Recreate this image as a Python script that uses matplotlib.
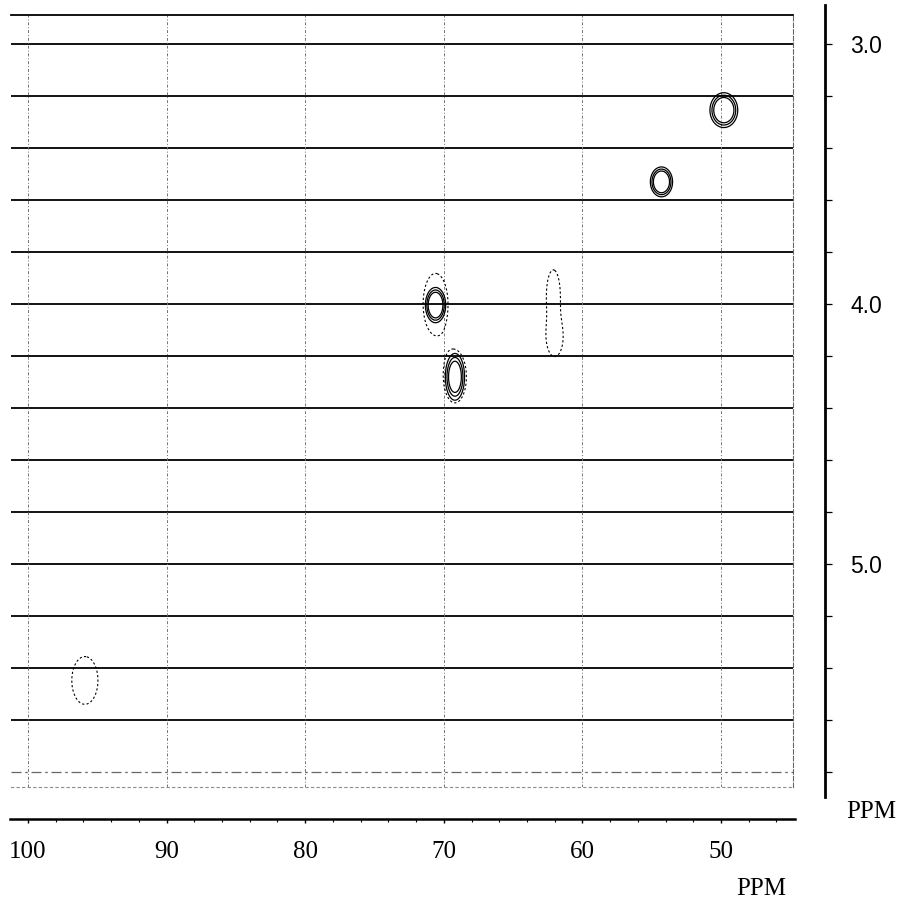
import numpy as np
import matplotlib
matplotlib.use("Agg")
import matplotlib.pyplot as plt

# 13C axis (ppm) and 1H axis (ppm)
c13_ticks = [100, 90, 80, 70, 60, 50]
c13_minor = list(range(46, 101, 2))
h1_ticks = [3.0, 3.2, 3.4, 3.6, 3.8, 4.0, 4.2, 4.4, 4.6, 4.8, 5.0, 5.2, 5.4, 5.6, 5.8]
h1_labels = ["3.0", "", "", "", "", "4.0", "", "", "", "", "5.0", "", "", "", ""]
grid_h_solid = [3.0, 3.2, 3.4, 3.6, 3.8, 4.0, 4.2, 4.4, 4.6, 4.8, 5.0, 5.2, 5.4, 5.6]
grid_h_faint = [5.8]

# cross peaks with strong (solid) contours: C, H, width C, width H, height
strong_c = [49.8, 54.3, 70.6, 69.2]
strong_h = [3.254, 3.53, 4.004, 4.28]
strong_sc = [0.575, 0.46, 0.42, 0.43]
strong_sh = [0.0385, 0.033, 0.039, 0.056]
strong_amp = [1.0, 1.0, 1.0, 0.8]

# weak (dotted) contours
weak_c = [70.6, 69.2, 62.1, 62.0, 95.9]
weak_h = [4.0, 4.28, 3.965, 4.13, 5.448]
weak_sc = [0.76, 0.70, 0.42, 0.49, 0.80]
weak_sh = [0.10, 0.085, 0.082, 0.06, 0.078]


def field(cc, hh, sc, sh, amp, X, Y):
    Z = np.zeros_like(X)
    for c, h, a, b, A in zip(cc, hh, sc, sh, amp):
        Z += A * np.exp(-0.5 * (((X - c) / a) ** 2 + ((Y - h) / b) ** 2))
    return Z


fig = plt.figure(figsize=(9.01, 9.11), dpi=100)
W, H = 901, 911

# main spectrum area
ax = fig.add_axes([11 / W, 1 - 787 / H, 782 / W, 772 / H])
ax.set_xlim(101.23, 44.81)
ax.set_ylim(5.858, 2.888)

xs = np.linspace(44.0, 102.0, 900)
ys = np.linspace(2.85, 5.9, 900)
X, Y = np.meshgrid(xs, ys)

Zs = field(strong_c, strong_h, strong_sc, strong_sh, strong_amp, X, Y)
Zw = field(weak_c, weak_h, weak_sc, weak_sh, [1.0] * len(weak_c), X, Y)

for yv in grid_h_solid:
    ax.axhline(yv, color="black", lw=1.3, zorder=1)
for yv in grid_h_faint:
    ax.axhline(yv, color="0.4", lw=0.9, ls=(0, (8, 3, 2, 3)), zorder=1)
for xv in c13_ticks:
    ax.axvline(xv, color="0.45", lw=0.7, ls=(0, (3, 2, 1, 2)), zorder=1)

ax.contour(X, Y, Zw, levels=[0.5], colors="black", linewidths=0.8,
           linestyles=[(0, (2, 2))], zorder=2)
ax.contour(X, Y, Zs, levels=[0.22, 0.33, 0.45], colors="black",
           linewidths=0.9, linestyles="solid", zorder=3)

ax.set_xticks([])
ax.set_yticks([])
ax.spines["left"].set_visible(False)
ax.spines["top"].set_linewidth(1.3)
ax.spines["right"].set_color("0.4")
ax.spines["right"].set_linewidth(0.8)
ax.spines["right"].set_linestyle((0, (4, 2)))
ax.spines["bottom"].set_color("0.55")
ax.spines["bottom"].set_linewidth(0.8)
ax.spines["bottom"].set_linestyle((0, (2, 3)))

serif = "Liberation Serif"

# bottom 13C axis
axb = fig.add_axes([10 / W, 1 - 819 / H, 785 / W, 1e-4])
axb.set_xlim(101.3, 44.66)
axb.set_yticks([])
for s in ["left", "right", "top"]:
    axb.spines[s].set_visible(False)
axb.spines["bottom"].set_linewidth(1.8)
axb.set_xticks(c13_ticks)
axb.set_xticklabels([str(v) for v in c13_ticks], fontfamily=serif, fontsize=18)
axb.set_xticks(c13_minor, minor=True)
axb.tick_params(axis="x", which="major", direction="out", length=3, width=1, pad=13)
axb.tick_params(axis="x", which="minor", direction="out", length=2, width=0.8)
axb.patch.set_visible(False)

# right 1H axis
axr = fig.add_axes([825 / W, 1 - 797 / H, 1e-4, 792 / H])
axr.set_ylim(5.896, 2.85)
axr.set_xticks([])
for s in ["left", "bottom", "top"]:
    axr.spines[s].set_visible(False)
axr.spines["right"].set_linewidth(2.0)
axr.yaxis.tick_right()
axr.set_yticks(h1_ticks)
axr.set_yticklabels(h1_labels, fontfamily="Liberation Sans", fontsize=16.5)
axr.tick_params(axis="y", direction="out", length=5, width=0.9, pad=13)
axr.patch.set_visible(False)

fig.text(761 / W, 1 - 889 / H, "PPM", ha="center", va="center",
         fontfamily=serif, fontsize=18)
fig.text(871 / W, 1 - 812 / H, "PPM", ha="center", va="center",
         fontfamily=serif, fontsize=18)

fig.savefig("out.png", dpi=100, facecolor="white")
